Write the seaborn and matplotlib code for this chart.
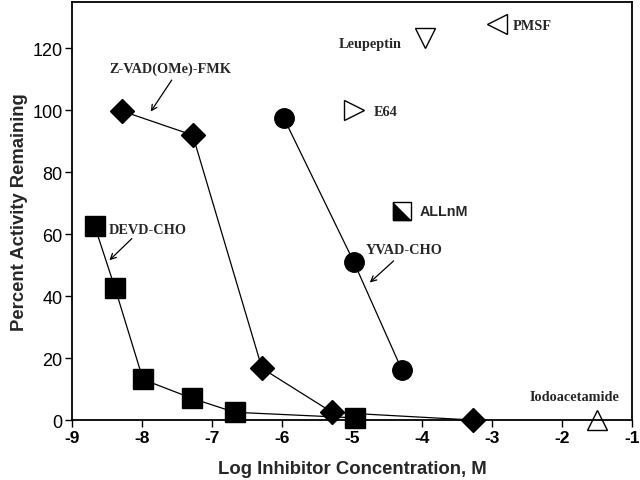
import matplotlib
matplotlib.use("Agg")
import matplotlib.pyplot as plt
import seaborn as sns

# ---- data ----
devd_x = [-8.68, -8.39, -7.99, -7.29, -6.68, -4.96]
devd_y = [62.6, 42.6, 13.1, 7.0, 2.5, 0.7]
zvad_x = [-8.29, -7.28, -6.29, -5.29, -3.28]
zvad_y = [99.8, 92.0, 16.7, 2.5, 0.0]
yvad_x = [-5.98, -4.98, -4.29]
yvad_y = [97.6, 51.1, 16.1]
single_names = ["PMSF", "Leupeptin", "E64", "ALLnM", "Iodoacetamide"]
single_x = [-2.94, -3.96, -4.98, -4.29, -1.50]
single_y = [128.0, 123.4, 100.0, 67.4, 0.0]
x_ticks = [-9, -8, -7, -6, -5, -4, -3, -2, -1]
y_ticks = [0, 20, 40, 60, 80, 100, 120]

sns.set_style("ticks")
plt.rcParams["font.family"] = ["Liberation Sans", "DejaVu Sans"]

fig = plt.figure(figsize=(6.4, 4.81), dpi=100)
ax = fig.add_axes([0.113, 0.1247, 0.875, 0.869])

line_kw = dict(color="black", linewidth=0.9, estimator=None, sort=False,
               markeredgecolor="black", markeredgewidth=1.0, ax=ax)

sns.lineplot(x=devd_x, y=devd_y, marker="s", markersize=14, **line_kw)
sns.lineplot(x=zvad_x, y=zvad_y, marker="D", markersize=12.5, **line_kw)
sns.lineplot(x=yvad_x, y=yvad_y, marker="o", markersize=14, **line_kw)

open_markers = {"PMSF": "<", "Leupeptin": "v", "E64": ">", "Iodoacetamide": "^"}
for name, xv, yv in zip(single_names, single_x, single_y):
    if name in open_markers:
        sns.lineplot(x=[xv], y=[yv], marker=open_markers[name], markersize=14,
                     markerfacecolor="white", **line_kw)
    else:
        # half-filled square (lower-left triangle black)
        sns.lineplot(x=[xv], y=[yv], marker="s", markersize=13.5,
                     markerfacecolor="white", **line_kw)
        sns.lineplot(x=[xv], y=[yv], marker=[(-1, 1), (-1, -1), (1, -1)],
                     markersize=13.5, markerfacecolor="black", **line_kw)

for ln in ax.lines:
    ln.set_clip_on(False)

ax.set_xlim(-9, -1)
ax.set_ylim(0, 135)
ax.set_xticks(x_ticks)
ax.set_yticks(y_ticks)
ax.set_xticklabels([str(t) for t in x_ticks], fontweight="bold", fontsize=12.5)
ax.set_yticklabels([str(t) for t in y_ticks], fontsize=13)
ax.tick_params(direction="out", length=5, width=1.0, pad=2, colors="black")
for sp in ax.spines.values():
    sp.set_visible(True)
    sp.set_linewidth(1.3)
    sp.set_color("black")

ax.set_xlabel("Log Inhibitor Concentration, M", fontsize=13.3, fontweight="bold", labelpad=11)
ax.set_ylabel("Percent Activity Remaining", fontsize=13.3, fontweight="bold", labelpad=3)

serif = dict(family=["Liberation Serif", "DejaVu Serif"], fontweight="bold", fontsize=10.3)
arrow = dict(arrowstyle="->", color="black", lw=0.9, shrinkA=0, shrinkB=0)

ax.text(-7.60, 113.5, "Z-VAD(OMe)-FMK", ha="center", va="center", **serif)
ax.annotate("", xy=(-7.88, 99.6), xytext=(-7.58, 109.8), arrowprops=arrow)
ax.text(-7.93, 61.4, "DEVD-CHO", ha="center", va="center", **serif)
ax.annotate("", xy=(-8.47, 51.6), xytext=(-8.15, 58.6), arrowprops=arrow)
ax.text(-4.26, 55.2, "YVAD-CHO", ha="center", va="center", **serif)
ax.annotate("", xy=(-4.75, 44.4), xytext=(-4.41, 51.4), arrowprops=arrow)

ax.text(-4.29, 121.6, "Leupeptin", ha="right", va="center", **serif)
ax.text(-2.71, 127.5, "PMSF", ha="left", va="center", **serif)
ax.text(-4.70, 99.6, "E64", ha="left", va="center", **serif)
ax.text(-1.82, 7.6, "Iodoacetamide", ha="center", va="center", **serif)
ax.text(-4.04, 67.4, "ALLnM", ha="left", va="center", fontsize=10.3,
        fontweight="bold", family=["Liberation Sans", "DejaVu Sans"])

fig.savefig("out.png", dpi=100)
